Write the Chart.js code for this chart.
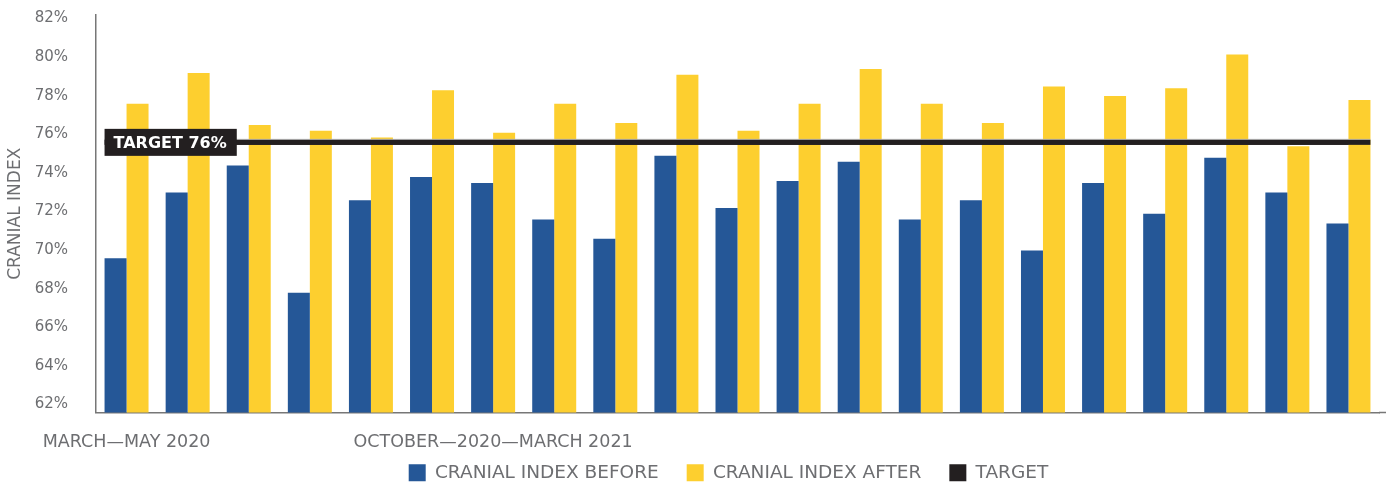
<!DOCTYPE html>
<html>
<head>
<meta charset="utf-8">
<script src="https://cdn.jsdelivr.net/npm/chart.js@4.4.0/dist/chart.umd.min.js"></script>
<style>
  html, body { margin: 0; padding: 0; background: #fff; }
</style>
</head>
<body>
<canvas id="bar-chart" width="1386" height="483"></canvas>
<script>
// data
const categories = ["MARCH—MAY 2020", "", "", "", "", "", "OCTOBER—2020—MARCH 2021",
  "", "", "", "", "", "", "", "", "", "", "", "", "", ""];
const indexBefore = [70.0, 73.4, 74.8, 68.2, 73.0, 74.2, 73.9, 72.0, 71.0, 75.3, 72.6,
  74.0, 75.0, 72.0, 73.0, 70.4, 73.9, 72.3, 75.2, 73.4, 71.8];
const indexAfter = [78.0, 79.6, 76.9, 76.6, 76.25, 78.7, 76.5, 78.0, 77.0, 79.5, 76.6,
  78.0, 79.8, 78.0, 77.0, 78.9, 78.4, 78.8, 80.55, 75.8, 78.2];
const targetValue = 76;
const yTicks = [62, 64, 66, 68, 70, 72, 74, 76, 78, 80, 82];
const yMin = 62, yMax = 82.6;

const grey = '#6d6e71';
const font = '"DejaVu Sans", sans-serif';

// extends the target line over the bar groups and draws its label box
const targetPlugin = {
  id: 'targetLine',
  afterDatasetsDraw(chart) {
    const {ctx, scales: {x, y}} = chart;
    const w = chart.getDatasetMeta(0).data[0].width;
    const yy = y.getPixelForValue(targetValue);
    const x0 = x.getPixelForValue(0) - w;
    const x1 = x.getPixelForValue(categories.length - 1) + w;
    ctx.save();
    ctx.fillStyle = '#b8b8b8';
    ctx.fillRect(x0, yy - 3.5, x1 - x0, 1);
    ctx.fillStyle = '#231F20';
    ctx.fillRect(x0, yy - 2.5, x1 - x0, 5);
    ctx.font = 'bold 16px ' + font;
    const text = 'TARGET ' + targetValue + '%';
    const tw = ctx.measureText(text).width;
    ctx.fillRect(x0, yy - 13.5, tw + 19, 27);
    ctx.fillStyle = '#fff';
    ctx.textBaseline = 'middle';
    ctx.fillText(text, x0 + 9, yy + 1);
    // bottom axis runs on to the edge of the picture
    ctx.strokeStyle = '#777';
    ctx.lineWidth = 1.5;
    ctx.beginPath();
    ctx.moveTo(chart.chartArea.right, x.top);
    ctx.lineTo(chart.width, x.top);
    ctx.stroke();
    ctx.restore();
  }
};

// nudge legend and widen the x label clip box after layout
const layoutTweak = {
  id: 'layoutTweak',
  afterLayout(chart) {
    const l = chart.legend;
    l.left += 39; l.right += 39;
    l.top += 9; l.bottom += 9;
    chart.scales.x.bottom += 45;
  }
};

new Chart(document.getElementById("bar-chart"), {
  type: 'bar',
  data: {
    labels: categories,
    datasets: [
      {
        label: "CRANIAL INDEX BEFORE",
        backgroundColor: "#255797",
        data: indexBefore,
        order: 1
      },
      {
        label: "CRANIAL INDEX AFTER",
        backgroundColor: "#FDCF2F",
        data: indexAfter,
        order: 1
      },
      {
        type: 'line',
        label: "TARGET",
        data: categories.map(() => targetValue),
        borderColor: "#231F20",
        backgroundColor: "#231F20",
        borderWidth: 5,
        pointRadius: 0,
        order: 0
      }
    ]
  },
  options: {
    responsive: false,
    animation: false,
    events: [],
    layout: { padding: { top: 15, right: 7, left: 0, bottom: 0 } },
    datasets: {
      bar: { categoryPercentage: 0.72, barPercentage: 1.0 }
    },
    scales: {
      x: {
        grid: { display: false },
        border: { color: '#777', width: 1.5 },
        ticks: {
          autoSkip: false, maxRotation: 0, minRotation: 0,
          color: grey, font: { family: font, size: 17.5 }, padding: 11
        },
        afterFit(s) { s.height = 14; s.paddingLeft = 0; s.paddingRight = 0; }
      },
      y: {
        min: yMin, max: yMax,
        grid: { display: false },
        border: { color: '#777', width: 1.5 },
        ticks: {
          color: grey, font: { family: font, size: 15 }, padding: 20,
          labelOffset: -8,
          callback: v => v + '%'
        },
        afterBuildTicks(s) { s.ticks = yTicks.map(v => ({ value: v })); },
        title: {
          display: true, text: 'CRANIAL INDEX', color: grey,
          font: { family: font, size: 17 }, padding: { top: 5, bottom: 0 }
        },
        afterFit(s) { s.width = 96; s.paddingTop = 0; s.paddingBottom = 0; }
      }
    },
    plugins: {
      tooltip: { enabled: false },
      legend: {
        position: 'bottom',
        labels: {
          color: grey,
          font: { family: font, size: 18.5 },
          boxWidth: 17, boxHeight: 17, padding: 28,
          sort: (a, b) => a.datasetIndex - b.datasetIndex,
          generateLabels: chart => chart.data.datasets.map((d, i) => ({
            text: d.label, fillStyle: d.backgroundColor, strokeStyle: d.backgroundColor,
            lineWidth: 0, datasetIndex: i, fontColor: grey
          }))
        }
      }
    }
  },
  plugins: [targetPlugin, layoutTweak]
});
</script>
</body>
</html>
